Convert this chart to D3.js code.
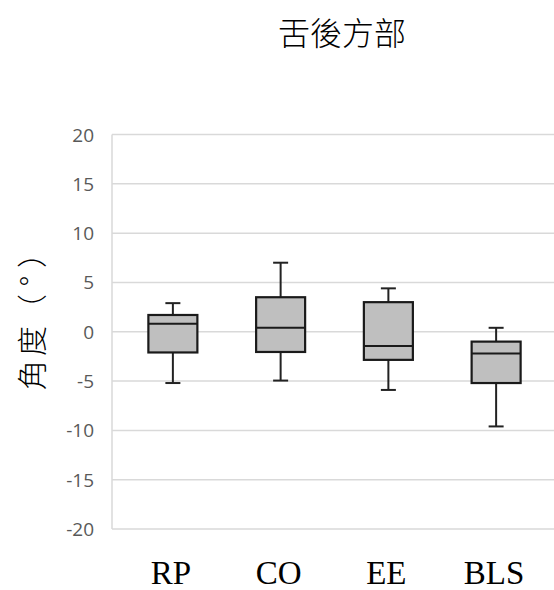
<!DOCTYPE html>
<html>
<head>
<meta charset="utf-8">
<script src="https://cdn.jsdelivr.net/npm/d3@7"></script>
<style>
  body { margin: 0; background: #fff; }
</style>
</head>
<body>
<script>
// box plot data
var groups = ["RP", "CO", "EE", "BLS"]
var whiskerMin = [-5.2, -4.95, -5.9, -9.6]
var q1Values = [-2.1, -2.05, -2.85, -5.2]
var medianValues = [0.8, 0.4, -1.45, -2.2]
var q3Values = [1.7, 3.5, 3.0, -1.0]
var whiskerMax = [2.9, 7.0, 4.4, 0.4]
var yTicks = [-20, -15, -10, -5, 0, 5, 10, 15, 20]

var width = 554, height = 590

var svg = d3.select("body").append("svg")
    .attr("width", width)
    .attr("height", height)

var y = d3.scaleLinear().domain([-20, 20]).range([529, 134.5])
var x = d3.scaleBand().domain(groups).range([119, 550])

var plotLeft = 112, plotRight = 554

// gridlines
svg.selectAll("line.grid")
    .data(yTicks)
    .enter()
    .append("line")
        .attr("class", "grid")
        .attr("x1", plotLeft)
        .attr("x2", plotRight)
        .attr("y1", (d) => y(d))
        .attr("y2", (d) => y(d))
        .attr("stroke", "#d9d9d9")
        .attr("stroke-width", 1.5)

// left axis line
svg.append("line")
    .attr("x1", plotLeft).attr("x2", plotLeft)
    .attr("y1", y(20)).attr("y2", y(-20))
    .attr("stroke", "#d9d9d9")
    .attr("stroke-width", 1.5)

// tick labels
svg.selectAll("text.tick")
    .data(yTicks)
    .enter()
    .append("text")
        .attr("class", "tick")
        .attr("x", 94)
        .attr("y", (d) => y(d) + 7)
        .attr("text-anchor", "end")
        .attr("fill", "#595959")
        .style("font-family", "Open Sans")
        .style("font-size", "19px")
        .text((d) => d)

// boxes
var boxData = groups.map((g, i) => ({
    name: g, min: whiskerMin[i], q1: q1Values[i], med: medianValues[i], q3: q3Values[i], max: whiskerMax[i]
}))
var boxW = 49, capW = 15

var box = svg.selectAll("g.box")
    .data(boxData)
    .enter()
    .append("g")
        .attr("class", "box")
        .attr("transform", (d) => "translate(" + (x(d.name) + x.bandwidth() / 2) + ",0)")

// whiskers
box.append("line")
    .attr("x1", 0).attr("x2", 0)
    .attr("y1", (d) => y(d.max)).attr("y2", (d) => y(d.q3))
    .attr("stroke", "#222").attr("stroke-width", 2)
box.append("line")
    .attr("x1", 0).attr("x2", 0)
    .attr("y1", (d) => y(d.q1)).attr("y2", (d) => y(d.min))
    .attr("stroke", "#222").attr("stroke-width", 2)
box.append("line")
    .attr("x1", -capW / 2).attr("x2", capW / 2)
    .attr("y1", (d) => y(d.max)).attr("y2", (d) => y(d.max))
    .attr("stroke", "#222").attr("stroke-width", 2)
box.append("line")
    .attr("x1", -capW / 2).attr("x2", capW / 2)
    .attr("y1", (d) => y(d.min)).attr("y2", (d) => y(d.min))
    .attr("stroke", "#222").attr("stroke-width", 2)

box.append("rect")
    .attr("x", -boxW / 2)
    .attr("width", boxW)
    .attr("y", (d) => y(d.q3))
    .attr("height", (d) => y(d.q1) - y(d.q3))
    .attr("fill", "#bfbfbf")
    .attr("stroke", "#1a1a1a")
    .attr("stroke-width", 2.2)

box.append("line")
    .attr("x1", -boxW / 2).attr("x2", boxW / 2)
    .attr("y1", (d) => y(d.med)).attr("y2", (d) => y(d.med))
    .attr("stroke", "#1a1a1a").attr("stroke-width", 2)

// category labels
svg.selectAll("text.cat")
    .data(groups)
    .enter()
    .append("text")
        .attr("class", "cat")
        .attr("x", (d) => x(d) + x.bandwidth() / 2 - 2)
        .attr("y", 584)
        .attr("text-anchor", "middle")
        .style("font-family", "Liberation Serif")
        .style("font-size", "33px")
        .text((d) => d)

// title
svg.append("text")
    .attr("x", 342)
    .attr("y", 45)
    .attr("text-anchor", "middle")
    .style("font-family", "Noto Sans CJK TC")
    .style("font-size", "32px")
    .style("font-weight", "300")
    .text("舌後方部")

// y axis title, one glyph at a time so the full-width brackets keep their width
var yTitle = ["角", "度", "（", "°", "）"]
var yTitlePos = [375, 341, 309, 281, 253]
svg.selectAll("text.ytitle")
    .data(yTitle)
    .enter()
    .append("text")
        .attr("class", "ytitle")
        .attr("transform", (d, i) => "translate(30," + yTitlePos[i] + ") rotate(-90)")
        .attr("text-anchor", "middle")
        .attr("dominant-baseline", "central")
        .style("font-family", "Noto Sans CJK TC")
        .style("font-size", "30px")
        .style("font-weight", "300")
        .text((d) => d)
</script>
</body>
</html>
